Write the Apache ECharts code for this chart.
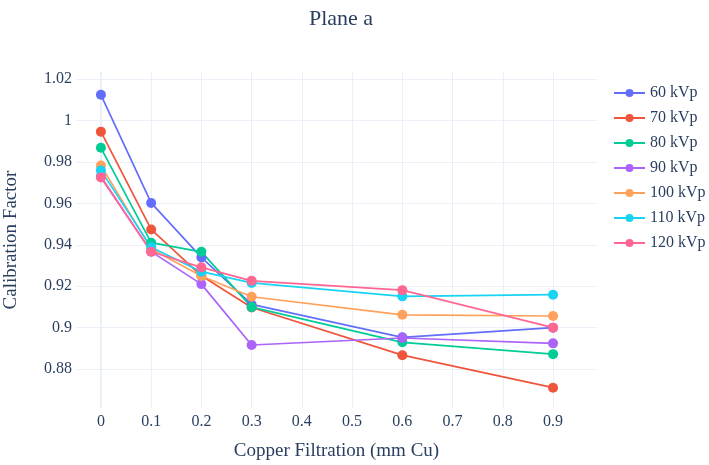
<!DOCTYPE html>
<html>
<head>
<meta charset="utf-8">
<script src="https://cdn.jsdelivr.net/npm/echarts@6/dist/echarts.min.js"></script>
<style>html,body{margin:0;padding:0;background:#fff}#c{width:709px;height:465px}</style>
</head>
<body>
<div id="c"></div>
<script>
// ---- data ----
const xValues = [0, 0.1, 0.2, 0.3, 0.6, 0.9];
const seriesNames = ['60 kVp', '70 kVp', '80 kVp', '90 kVp', '100 kVp', '110 kVp', '120 kVp'];
const kvp60  = [1.0124, 0.9602, 0.9339, 0.9112, 0.8953, 0.9000];
const kvp70  = [0.9946, 0.9474, 0.9250, 0.9097, 0.8867, 0.8710];
const kvp80  = [0.9868, 0.9410, 0.9366, 0.9099, 0.8929, 0.8872];
const kvp90  = [0.9730, 0.9367, 0.9210, 0.8916, 0.8950, 0.8924];
const kvp100 = [0.9783, 0.9380, 0.9249, 0.9149, 0.9062, 0.9056];
const kvp110 = [0.9759, 0.9388, 0.9270, 0.9216, 0.9151, 0.9159];
const kvp120 = [0.9725, 0.9366, 0.9291, 0.9226, 0.9181, 0.9000];
const xTicks = [0, 0.1, 0.2, 0.3, 0.4, 0.5, 0.6, 0.7, 0.8, 0.9];
const yTicks = [0.88, 0.9, 0.92, 0.94, 0.96, 0.98, 1, 1.02];
const colors = ['#636efa', '#EF553B', '#00cc96', '#ab63fa', '#FFA15A', '#19d3f3', '#FF6692'];
const allValues = [kvp60, kvp70, kvp80, kvp90, kvp100, kvp110, kvp120];

const FONT = '"Liberation Serif", "Times New Roman", serif';
const TXT = '#2a3f5f';
const GRID = '#ebf0f8';

const chart = echarts.init(document.getElementById('c'), null, {renderer: 'canvas'});
const series = seriesNames.map((name, i) => ({
  name: name,
  type: 'line',
  data: xValues.map((x, j) => [x, allValues[i][j]]),
  symbol: 'circle',
  symbolSize: 10,
  lineStyle: {width: 1.7, color: colors[i]},
  itemStyle: {color: colors[i]},
  emphasis: {disabled: true},
  animation: false
}));
// zero line on x = 0 (drawn under the traces)
series.push({
  type: 'line', data: [], silent: true, z: 0, animation: false,
  markLine: {
    silent: true, symbol: 'none', animation: false, z: 0,
    label: {show: false},
    lineStyle: {color: GRID, width: 2, type: 'solid'},
    data: [{xAxis: 0}]
  }
});

chart.setOption({
  backgroundColor: '#fff',
  textStyle: {fontFamily: FONT, color: TXT},
  title: {
    text: 'Plane a',
    left: 336, top: 3, textAlign: 'center',
    textStyle: {fontFamily: FONT, color: TXT, fontSize: 22, fontWeight: 'normal'}
  },
  legend: {
    orient: 'vertical',
    left: 608, top: 80,
    itemWidth: 31, itemHeight: 10, itemGap: 9,
    textStyle: {fontFamily: FONT, color: TXT, fontSize: 16},
    data: seriesNames
  },
  grid: {left: 76, right: 112, top: 72, bottom: 57, containLabel: false, outerBoundsMode: 'none'},
  xAxis: {
    type: 'value',
    min: -0.0496, max: 0.9875,
    name: 'Copper Filtration (mm Cu)',
    nameLocation: 'middle', nameGap: 34,
    nameTextStyle: {fontFamily: FONT, color: TXT, fontSize: 19},
    axisLine: {show: false},
    axisTick: {show: false, customValues: xTicks},
    axisLabel: {customValues: xTicks, fontFamily: FONT, color: TXT, fontSize: 16, margin: 6,
      formatter: v => String(+v.toFixed(2))},
    splitLine: {show: true, lineStyle: {color: GRID, width: 1}}
  },
  yAxis: {
    type: 'value',
    min: 0.8612, max: 1.0234,
    name: 'Calibration Factor',
    nameLocation: 'middle', nameGap: 55,
    nameTextStyle: {fontFamily: FONT, color: TXT, fontSize: 19},
    axisLine: {show: false},
    axisTick: {show: false, customValues: yTicks},
    axisLabel: {customValues: yTicks, fontFamily: FONT, color: TXT, fontSize: 16, margin: 4,
      formatter: v => String(+v.toFixed(2))},
    splitLine: {show: true, lineStyle: {color: GRID, width: 1}}
  },
  series: series
});
</script>
</body>
</html>
